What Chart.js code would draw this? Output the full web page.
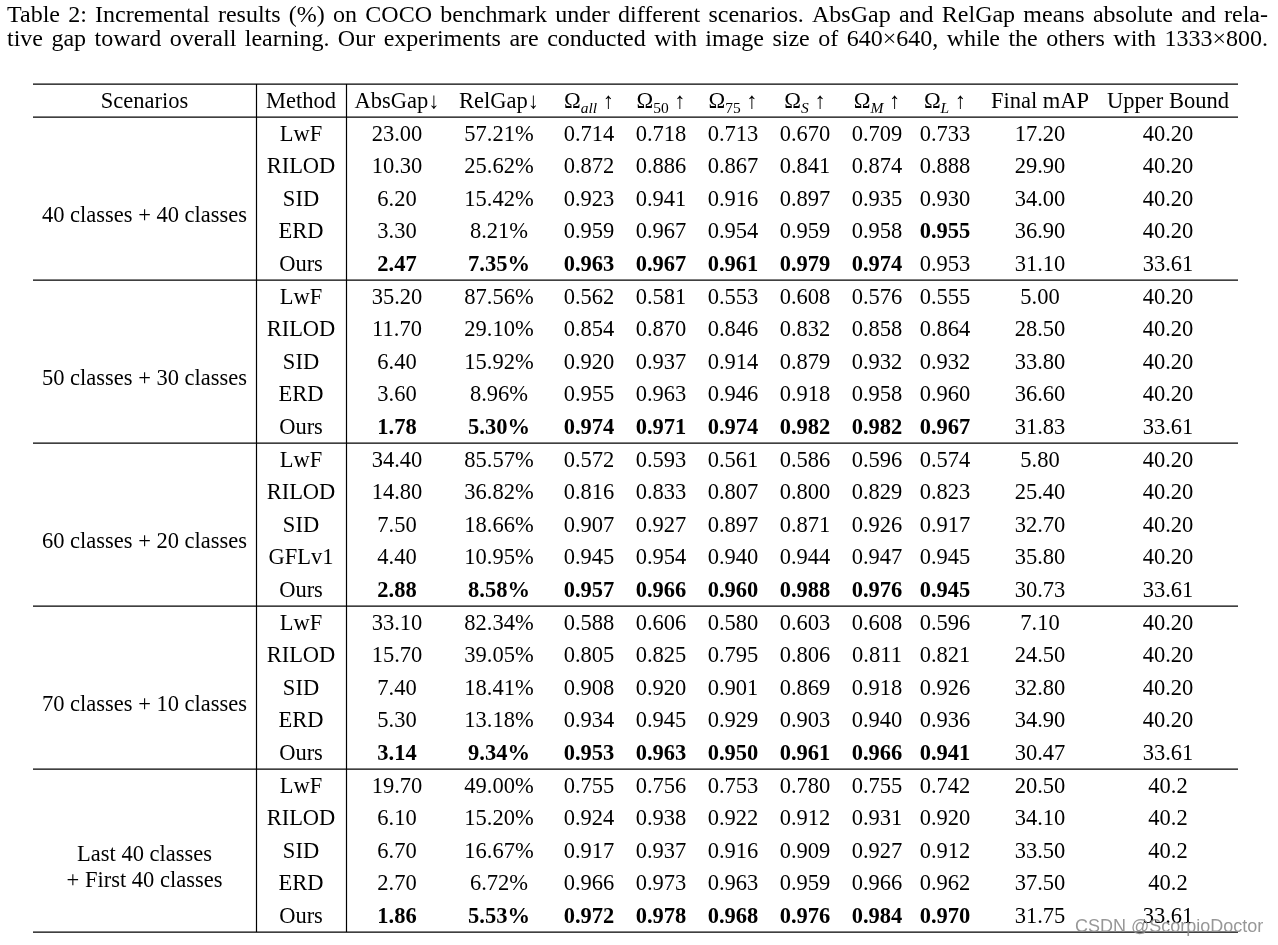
<!DOCTYPE html>
<html>
<head>
<meta charset="utf-8">
<script src="https://cdn.jsdelivr.net/npm/chart.js@4"></script>
<style>
  html, body { margin: 0; padding: 0; background: #fff; overflow: hidden; }
  canvas { display: block; }
</style>
</head>
<body>
<canvas id="table" width="1278" height="945"></canvas>
<script>
const captionLines = [
  'Table 2: Incremental results (%) on COCO benchmark under different scenarios. AbsGap and RelGap means absolute and rela-',
  'tive gap toward overall learning. Our experiments are conducted with image size of 640\u00d7640, while the others with 1333\u00d7800.'
];

const scenarios = [
  ['40 classes + 40 classes'],
  ['50 classes + 30 classes'],
  ['60 classes + 20 classes'],
  ['70 classes + 10 classes'],
  ['Last 40 classes', '+ First 40 classes']
];
const methods = [
  'LwF', 'RILOD', 'SID', 'ERD', 'Ours',
  'LwF', 'RILOD', 'SID', 'ERD', 'Ours',
  'LwF', 'RILOD', 'SID', 'GFLv1', 'Ours',
  'LwF', 'RILOD', 'SID', 'ERD', 'Ours',
  'LwF', 'RILOD', 'SID', 'ERD', 'Ours'
];
const absGap = [23.00, 10.30, 6.20, 3.30, 2.47, 35.20, 11.70, 6.40, 3.60, 1.78, 34.40, 14.80, 7.50, 4.40, 2.88, 33.10, 15.70, 7.40, 5.30, 3.14, 19.70, 6.10, 6.70, 2.70, 1.86];
const relGap = [57.21, 25.62, 15.42, 8.21, 7.35, 87.56, 29.10, 15.92, 8.96, 5.30, 85.57, 36.82, 18.66, 10.95, 8.58, 82.34, 39.05, 18.41, 13.18, 9.34, 49.00, 15.20, 16.67, 6.72, 5.53];
const omegaAll = [0.714, 0.872, 0.923, 0.959, 0.963, 0.562, 0.854, 0.920, 0.955, 0.974, 0.572, 0.816, 0.907, 0.945, 0.957, 0.588, 0.805, 0.908, 0.934, 0.953, 0.755, 0.924, 0.917, 0.966, 0.972];
const omega50 = [0.718, 0.886, 0.941, 0.967, 0.967, 0.581, 0.870, 0.937, 0.963, 0.971, 0.593, 0.833, 0.927, 0.954, 0.966, 0.606, 0.825, 0.920, 0.945, 0.963, 0.756, 0.938, 0.937, 0.973, 0.978];
const omega75 = [0.713, 0.867, 0.916, 0.954, 0.961, 0.553, 0.846, 0.914, 0.946, 0.974, 0.561, 0.807, 0.897, 0.940, 0.960, 0.580, 0.795, 0.901, 0.929, 0.950, 0.753, 0.922, 0.916, 0.963, 0.968];
const omegaS = [0.670, 0.841, 0.897, 0.959, 0.979, 0.608, 0.832, 0.879, 0.918, 0.982, 0.586, 0.800, 0.871, 0.944, 0.988, 0.603, 0.806, 0.869, 0.903, 0.961, 0.780, 0.912, 0.909, 0.959, 0.976];
const omegaM = [0.709, 0.874, 0.935, 0.958, 0.974, 0.576, 0.858, 0.932, 0.958, 0.982, 0.596, 0.829, 0.926, 0.947, 0.976, 0.608, 0.811, 0.918, 0.940, 0.966, 0.755, 0.931, 0.927, 0.966, 0.984];
const omegaL = [0.733, 0.888, 0.930, 0.955, 0.953, 0.555, 0.864, 0.932, 0.960, 0.967, 0.574, 0.823, 0.917, 0.945, 0.945, 0.596, 0.821, 0.926, 0.936, 0.941, 0.742, 0.920, 0.912, 0.962, 0.970];
const finalMAP = [17.20, 29.90, 34.00, 36.90, 31.10, 5.00, 28.50, 33.80, 36.60, 31.83, 5.80, 25.40, 32.70, 35.80, 30.73, 7.10, 24.50, 32.80, 34.90, 30.47, 20.50, 34.10, 33.50, 37.50, 31.75];
const upperBound = ['40.20', '40.20', '40.20', '40.20', '33.61', '40.20', '40.20', '40.20', '40.20', '33.61', '40.20', '40.20', '40.20', '40.20', '33.61', '40.20', '40.20', '40.20', '40.20', '33.61', '40.2', '40.2', '40.2', '40.2', '33.61'];

const GROUP = 5;
const SERIF = '"Liberation Serif", "Times New Roman", serif';
const FS = 22.5;
const fontOf = (bold, italic, size) => `${italic ? 'italic ' : ''}${bold ? 'bold ' : ''}${size || FS}px ${SERIF}`;

// column layout: centre in table units (1 unit = 1px), header, values, how "best" is chosen
const columns = [
  { cx: 301, head: [{ t: 'Method' }], values: methods, fmt: v => v },
  { cx: 397, head: [{ t: 'AbsGap\u2193' }], values: absGap, fmt: v => v.toFixed(2), best: 'min' },
  { cx: 499, head: [{ t: 'RelGap\u2193' }], values: relGap, fmt: v => v.toFixed(2) + '%', best: 'min' },
  { cx: 589, head: [{ t: '\u03a9' }, { t: 'all', sub: true, italic: true }, { t: ' \u2191' }], values: omegaAll, fmt: v => v.toFixed(3), best: 'max' },
  { cx: 661, head: [{ t: '\u03a9' }, { t: '50', sub: true }, { t: ' \u2191' }], values: omega50, fmt: v => v.toFixed(3), best: 'max' },
  { cx: 733, head: [{ t: '\u03a9' }, { t: '75', sub: true }, { t: ' \u2191' }], values: omega75, fmt: v => v.toFixed(3), best: 'max' },
  { cx: 805, head: [{ t: '\u03a9' }, { t: 'S', sub: true, italic: true }, { t: ' \u2191' }], values: omegaS, fmt: v => v.toFixed(3), best: 'max' },
  { cx: 877, head: [{ t: '\u03a9' }, { t: 'M', sub: true, italic: true }, { t: ' \u2191' }], values: omegaM, fmt: v => v.toFixed(3), best: 'max' },
  { cx: 945, head: [{ t: '\u03a9' }, { t: 'L', sub: true, italic: true }, { t: ' \u2191' }], values: omegaL, fmt: v => v.toFixed(3), best: 'max' },
  { cx: 1040, head: [{ t: 'Final mAP' }], values: finalMAP, fmt: v => v.toFixed(2) },
  { cx: 1168, head: [{ t: 'Upper Bound' }], values: upperBound, fmt: v => v }
];
const scenarioX = 144.5;
const tableLeft = 33, tableRight = 1238;
const verticalRules = [256.5, 346.5];
const rowPitch = 32.6, headerY = 100.4;

// best value per group: ties go to "Ours"
function boldFlags(col) {
  const flags = col.values.map(() => false);
  if (!col.best) return flags;
  for (let g = 0; g < col.values.length; g += GROUP) {
    const grp = col.values.slice(g, g + GROUP);
    const best = col.best === 'min' ? Math.min(...grp) : Math.max(...grp);
    const oursIdx = g + methods.slice(g, g + GROUP).indexOf('Ours');
    if (col.values[oursIdx] === best) flags[oursIdx] = true;
    else grp.forEach((v, k) => { if (v === best) flags[g + k] = true; });
  }
  return flags;
}

const datasets = [];
datasets.push({
  label: 'Scenarios',
  data: [{ x: scenarioX, y: 0 }].concat(scenarios.map((s, g) => ({ x: scenarioX, y: g * GROUP + 3.5 }))),
  cells: [{ parts: [{ t: 'Scenarios' }] }].concat(scenarios.map(s => ({ lines: s })))
});
columns.forEach(col => {
  const bold = boldFlags(col);
  datasets.push({
    label: col.head.map(p => p.t).join(''),
    data: [{ x: col.cx, y: 0 }].concat(col.values.map((v, i) => ({ x: col.cx, y: i + 1 }))),
    cells: [{ parts: col.head }].concat(col.values.map((v, i) => ({ parts: [{ t: col.fmt(v), bold: bold[i] }] })))
  });
});

function drawParts(ctx, parts, cx, cy) {
  const base = cy + 7.5;
  const widths = parts.map(p => {
    ctx.font = fontOf(p.bold, p.italic, p.sub ? 15.5 : FS);
    return ctx.measureText(p.t).width;
  });
  let x = cx - widths.reduce((a, b) => a + b, 0) / 2;
  parts.forEach((p, i) => {
    ctx.font = fontOf(p.bold, p.italic, p.sub ? 15.5 : FS);
    ctx.fillText(p.t, x, p.sub ? base + 5 : base);
    x += widths[i];
  });
}

function drawJustified(ctx, text, left, right, baseline) {
  const words = text.split(' ');
  const widths = words.map(w => ctx.measureText(w).width);
  const gap = (right - left - widths.reduce((a, b) => a + b, 0)) / (words.length - 1);
  let x = left;
  words.forEach((w, i) => { ctx.fillText(w, x, baseline); x += widths[i] + gap; });
}

const tablePlugin = {
  id: 'tableCells',
  beforeDraw(chart) {
    const { ctx, width, height } = chart;
    ctx.save();
    ctx.fillStyle = '#fff';
    ctx.fillRect(0, 0, width, height);
    ctx.restore();
  },
  afterDatasetsDraw(chart) {
    const { ctx, scales: { x, y } } = chart;
    ctx.save();
    ctx.fillStyle = '#000';
    ctx.textAlign = 'left';
    ctx.textBaseline = 'alphabetic';

    // caption
    ctx.font = fontOf(false, false, 24);
    drawJustified(ctx, captionLines[0], 7, 1268, 22);
    drawJustified(ctx, captionLines[1], 7, 1268, 45.5);

    // rules
    ctx.strokeStyle = '#000';
    ctx.lineWidth = 1.2;
    const left = x.getPixelForValue(tableLeft), right = x.getPixelForValue(tableRight);
    const ruleRows = [-0.5, 0.51];
    for (let g = 0; g < scenarios.length; g++) ruleRows.push(g * GROUP + GROUP + 0.51);
    ruleRows.forEach(r => {
      const py = y.getPixelForValue(r);
      ctx.beginPath(); ctx.moveTo(left, py); ctx.lineTo(right, py); ctx.stroke();
    });
    const top = y.getPixelForValue(ruleRows[0]), bottom = y.getPixelForValue(ruleRows[ruleRows.length - 1]);
    verticalRules.forEach(v => {
      const px = x.getPixelForValue(v);
      ctx.beginPath(); ctx.moveTo(px, top); ctx.lineTo(px, bottom); ctx.stroke();
    });

    // cells, placed at each point element
    chart.data.datasets.forEach((ds, i) => {
      chart.getDatasetMeta(i).data.forEach((pt, j) => {
        const cell = ds.cells[j];
        if (cell.lines) {
          const n = cell.lines.length;
          cell.lines.forEach((ln, k) => drawParts(ctx, [{ t: ln }], pt.x, pt.y + (k - (n - 1) / 2) * 26));
        } else {
          drawParts(ctx, cell.parts, pt.x, pt.y);
        }
      });
    });

    // watermark
    ctx.font = '18px "Liberation Sans", Arial, sans-serif';
    ctx.fillStyle = 'rgba(140,140,140,0.9)';
    ctx.fillText('CSDN @ScorpioDoctor', 1075, 932);
    ctx.restore();
  }
};

const yMin = -headerY / rowPitch;
const yMax = yMin + 945 / rowPitch;

new Chart(document.getElementById('table'), {
  type: 'scatter',
  data: { datasets },
  options: {
    responsive: false,
    animation: false,
    events: [],
    layout: { padding: 0, autoPadding: false },
    elements: { point: { radius: 0, hoverRadius: 0 } },
    plugins: { legend: { display: false }, tooltip: { enabled: false } },
    scales: {
      x: { type: 'linear', min: 0, max: 1278, display: false },
      y: { type: 'linear', min: yMin, max: yMax, reverse: true, display: false }
    }
  },
  plugins: [tablePlugin]
});
</script>
</body>
</html>
